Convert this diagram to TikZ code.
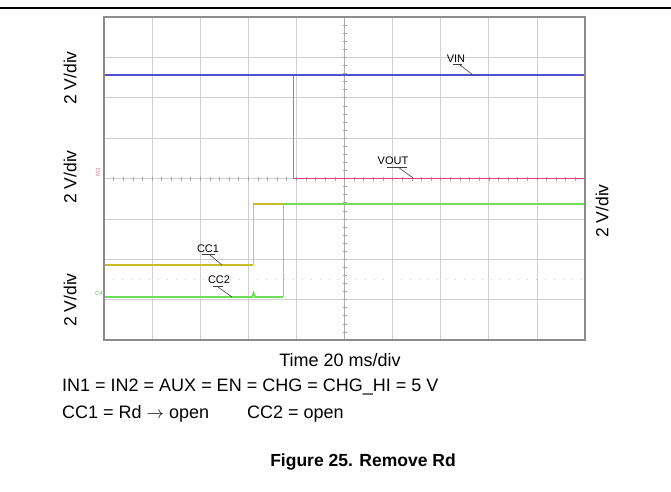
\documentclass[tikz,border=0pt]{standalone}
\usepackage{fontspec}
\setmainfont{Liberation Sans}
\definecolor{gridc}{RGB}{208,208,208}
\definecolor{framec}{RGB}{140,140,140}
\definecolor{vinc}{RGB}{80,80,205}
\definecolor{voutc}{RGB}{228,60,130}
\definecolor{cconec}{RGB}{200,188,40}
\definecolor{cctwoc}{RGB}{110,222,90}
\begin{document}
\begin{tikzpicture}[x=1pt,y=-1pt,
  gridline/.style={draw=gridc, line width=0.7pt},
  trace/.style={line width=1.8pt},
  edge/.style={line width=1pt},
  lbl/.style={font=\fontsize{11}{12}\selectfont, inner sep=0pt},
  leader/.style={draw=black!75, line width=0.6pt},
  bigtxt/.style={font=\fontsize{18}{20}\selectfont, inner sep=0pt},
  vdiv/.style={font=\fontsize{17.5}{20}\selectfont, inner sep=0pt, rotate=90}]
\useasboundingbox (0,0) rectangle (671,491);
% top rule
\draw[line width=1.5pt] (0,8) -- (671,8);
% grid
\foreach \i in {1,...,9} {\draw[gridline] ({104+\i*48.1},17) -- ({104+\i*48.1},340);}
\foreach \j in {1,...,7} {\draw[gridline] (104,{17+\j*40.375}) -- (585,{17+\j*40.375});}
% faint dotted reference line
\draw[gridc, line width=0.8pt, dash pattern=on 1pt off 8pt] (104,279) -- (585,279);
% centre axes ticks
\draw[framec!70, line width=0.6pt] (344.5,17) -- (344.5,340);
\foreach \k in {1,...,39} {\draw[framec!80, line width=0.6pt] (342.5,{17+\k*8.075}) -- (346.5,{17+\k*8.075});}
\foreach \k in {1,...,49} {\draw[framec!80, line width=0.6pt] ({104+\k*9.62},176.5) -- ({104+\k*9.62},180.5);}
% traces
\draw[voutc, trace] (104,75) -- (293,75);
\draw[voutc!85, edge] (293,75) -- (293,178.5);
\draw[voutc, trace] (293,178.5) -- (585,178.5);
\draw[vinc, trace] (104,75) -- (585,75);
\draw[cconec, trace] (104,265) -- (253,265);
\draw[cconec!85, edge] (253,265) -- (253,204);
\draw[cconec, trace] (253,204) -- (283,204);
\draw[cctwoc, trace] (104,297) -- (252,297) -- (253.5,293) -- (255,297) -- (283,297);
\draw[cctwoc!90, edge] (283,297) -- (283,204);
\draw[cctwoc, trace] (283,204) -- (585,204);
% frame
\draw[framec, line width=1.6pt] (104,17) rectangle (585,340);
% channel markers
\node[text=voutc!70, font=\fontsize{6}{6}\selectfont, rotate=90, inner sep=0pt] (m3) at (98,172) {M3};
\node[text=cctwoc!90!black, font=\fontsize{6}{6}\selectfont, inner sep=0pt] (m4) at (99,293) {C4};
% trace labels
\node[lbl] (vin) at (456,58.5) {VIN};
\draw[leader] (453,64.5) -- (462,64.5);
\coordinate (vinp) at (473,75);
\draw[leader] (460,65) -- (vinp);
\node[lbl] (vout) at (393,161) {VOUT};
\draw[leader] (387,167) -- (407,167);
\coordinate (voutp) at (413,178);
\draw[leader] (398,167) -- (voutp);
\node[lbl] (ccone) at (208,248.5) {CC1};
\draw[leader] (202,254.5) -- (215,254.5);
\coordinate (cconep) at (222,265);
\draw[leader] (210,255) -- (cconep);
\node[lbl] (cctwo) at (219,280) {CC2};
\draw[leader] (213,286.5) -- (223,286.5);
\coordinate (cctwop) at (232,297);
\draw[leader] (218,287) -- (cctwop);
% axis labels
\node[vdiv] (d1) at (70,78) {2 V/div};
\node[vdiv] (d2) at (70,177) {2 V/div};
\node[vdiv] (d3) at (70,300) {2 V/div};
\node[vdiv] (d4) at (602,211) {2 V/div};
% bottom texts
\node[bigtxt] (time) at (340,360) {Time 20 ms/div};
\node[bigtxt, anchor=west] (cond1) at (62,387) {IN1 = IN2 = AUX = EN = CHG = CHG\_HI = 5 V};
\node[bigtxt, anchor=west] (cond2) at (62,414) {CC1 = Rd $\rightarrow$ open};
\node[bigtxt, anchor=west] (cond3) at (247,414) {CC2 = open};
\node[font=\fontsize{17.5}{20}\selectfont\bfseries, inner sep=0pt] (title) at (363,462) {Figure 25. Remove Rd};
\end{tikzpicture}
\end{document}
